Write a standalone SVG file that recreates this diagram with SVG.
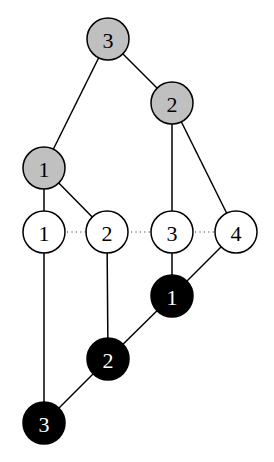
<svg xmlns="http://www.w3.org/2000/svg" width="274" height="462" viewBox="0 0 274 462">
<style>
.n{stroke:#000;stroke-width:1.5}
.g{fill:#c0c0c0}
.w{fill:#fff}
.b{fill:#000}
.e{stroke:#000;stroke-width:1.5;fill:none}
.d{stroke:#444;stroke-width:1.2;stroke-dasharray:1.2 3.2;fill:none}
text{font-family:"Liberation Serif","Times New Roman",serif;font-size:22px;text-anchor:middle;dominant-baseline:central}
.tb{fill:#000}
.tw{fill:#fff}
</style>
<rect width="274" height="462" fill="#fff"/>
<g id="connectors">
<line class="e" x1="108" y1="39" x2="44" y2="168"/>
<line class="e" x1="108" y1="39" x2="172" y2="103"/>
<line class="e" x1="172" y1="103" x2="172" y2="232"/>
<line class="e" x1="172" y1="103" x2="236" y2="232"/>
<line class="e" x1="44" y1="168" x2="44" y2="232"/>
<line class="e" x1="44" y1="168" x2="107" y2="232"/>
<line class="e" x1="44" y1="232" x2="44" y2="423"/>
<line class="e" x1="107" y1="232" x2="108" y2="359"/>
<line class="e" x1="172" y1="232" x2="172" y2="296"/>
<line class="e" x1="236" y1="232" x2="172" y2="296"/>
<line class="e" x1="172" y1="296" x2="108" y2="359"/>
<line class="e" x1="108" y1="359" x2="44" y2="423"/>
<line class="d" x1="67" y1="232" x2="86" y2="232"/>
<line class="d" x1="131" y1="232" x2="150" y2="232"/>
<line class="d" x1="195" y1="232" x2="214" y2="232"/>
</g>
<g id="g3"><circle class="n g" cx="108" cy="39" r="21"/><text class="tb" x="108" y="40">3</text></g>
<g id="g2"><circle class="n g" cx="172" cy="103" r="21"/><text class="tb" x="172" y="104">2</text></g>
<g id="g1"><circle class="n g" cx="44" cy="168" r="21"/><text class="tb" x="44" y="169">1</text></g>
<g id="w1"><circle class="n w" cx="44" cy="232" r="21"/><text class="tb" x="44" y="233">1</text></g>
<g id="w2"><circle class="n w" cx="107" cy="232" r="21"/><text class="tb" x="107" y="233">2</text></g>
<g id="w3"><circle class="n w" cx="172" cy="232" r="21"/><text class="tb" x="172" y="233">3</text></g>
<g id="w4"><circle class="n w" cx="236" cy="232" r="21"/><text class="tb" x="236" y="233">4</text></g>
<g id="b1"><circle class="n b" cx="172" cy="296" r="21"/><text class="tw" x="172" y="297">1</text></g>
<g id="b2"><circle class="n b" cx="108" cy="359" r="21"/><text class="tw" x="108" y="360">2</text></g>
<g id="b3"><circle class="n b" cx="44" cy="423" r="21"/><text class="tw" x="44" y="424">3</text></g>
</svg>
